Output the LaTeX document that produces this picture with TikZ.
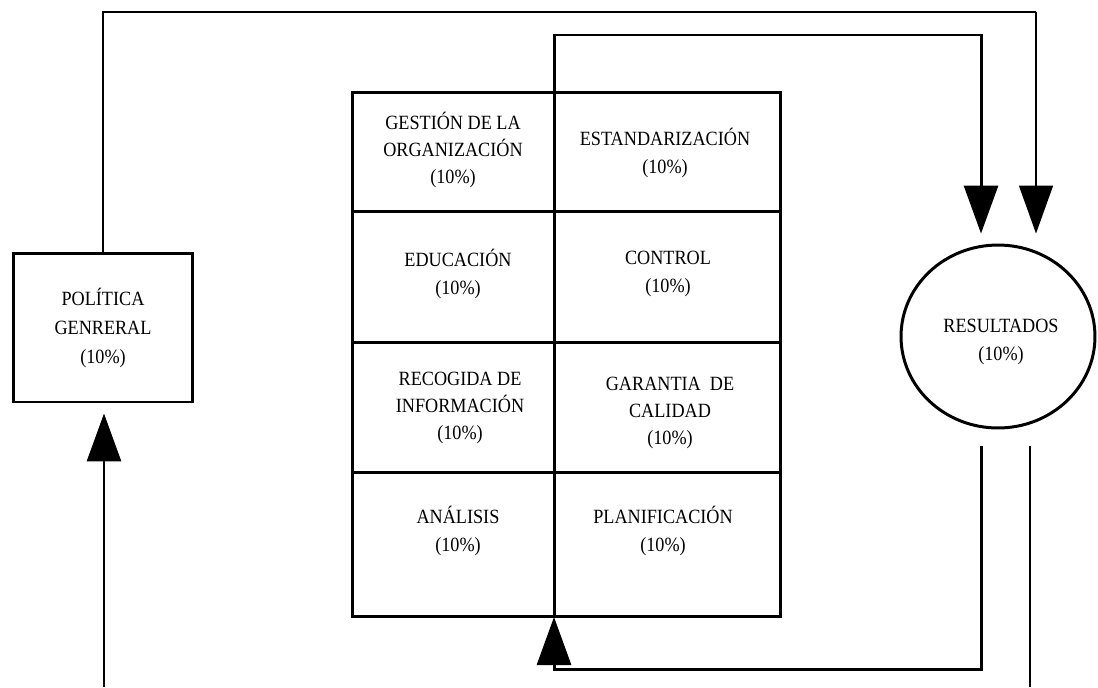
\documentclass[tikz,border=0pt]{standalone}
\usepackage{fontspec}
\setmainfont{Liberation Serif}[FakeStretch=0.9]
\usepackage{tikz}
\usetikzlibrary{shapes.geometric,arrows.meta,positioning}

\tikzset{
  grueso/.style={line width=1.7pt},
  fino/.style={line width=0.85pt},
  flecha/.style={-{Triangle[length=0.96cm,width=0.68cm]}},
  texto/.style={align=center,inner sep=0pt,font=\fontsize{11.5}{15.5}\selectfont}
}

\begin{document}
\begin{tikzpicture}[x=0.02cm,y=-0.02cm]
      \useasboundingbox (0,0) rectangle (1098,687);
      % left box and results ellipse
      \node[draw,grueso,minimum width=3.6cm,minimum height=2.98cm,texto,
        font=\fontsize{11.5}{16.5}\selectfont] (politica) at (103,327.5)
        {POLÍTICA\\GENRERAL\\(10\%)};
      \node[draw,grueso,ellipse,minimum width=3.88cm,minimum height=3.66cm] (resultados) at (998,336.5) {};
      \node[texto] (resultadosTxt) at (1001,342) {RESULTADOS\\(10\%)};
      % table
      \node[draw,grueso,minimum width=8.56cm,minimum height=10.5cm] (tabla) at (566.5,354.5) {};
      \draw[grueso] (352,211) -- (781,211);
      \draw[grueso] (352,342) -- (781,342);
      \draw[grueso] (352,472) -- (781,472);
      \coordinate (medioSup) at (554,92);
      \coordinate (medioInf) at (554,617);
      \draw[grueso] (medioSup) -- (medioInf);
      % cell texts
      \node[texto] (gestion) at (453,150) {GESTIÓN DE LA\\ORGANIZACIÓN\\(10\%)};
      \node[texto] (estandar) at (665,153) {ESTANDARIZACIÓN\\(10\%)};
      \node[texto] (educacion) at (458,274) {EDUCACIÓN\\(10\%)};
      \node[texto] (control) at (668,274) {CONTROL\\(10\%)};
      \node[texto] (recogida) at (460,408) {RECOGIDA DE\\INFORMACIÓN\\(10\%)};
      \node[texto] (garantia) at (670,413) {GARANTIA~~DE\\CALIDAD\\(10\%)};
      \node[texto] (analisis) at (458,531) {ANÁLISIS\\(10\%)};
      \node[texto] (planif) at (663,531) {PLANIFICACIÓN\\(10\%)};
      % outer loop: policy -> results
      \coordinate (esq1) at (1036,12);
      \draw[grueso] (politica.north) |- (esq1);
      \draw[fino,flecha,shorten >=0.2cm] (esq1) -- (resultados.north -| esq1);
      % inner loop: table -> results -> table
      \coordinate (esq2) at (981,35);
      \draw[grueso,flecha,shorten >=0.2cm] (medioSup) |- (esq2) -- (resultados.north -| esq2);
      \coordinate (esq3) at (981,669);
      \draw[grueso,flecha,shorten <=0.34cm] (resultados.south -| esq3) -- (esq3) -| (medioInf);
      % free ends at the bottom
      \coordinate (abajoDer) at (1030,687);
      \draw[fino,shorten <=0.34cm] (resultados.south -| abajoDer) -- (abajoDer);
      \coordinate (abajoIzq) at (104,687);
      \draw[grueso,flecha,shorten >=0.2cm] (abajoIzq) -- (politica.south -| abajoIzq);
\end{tikzpicture}
\end{document}
